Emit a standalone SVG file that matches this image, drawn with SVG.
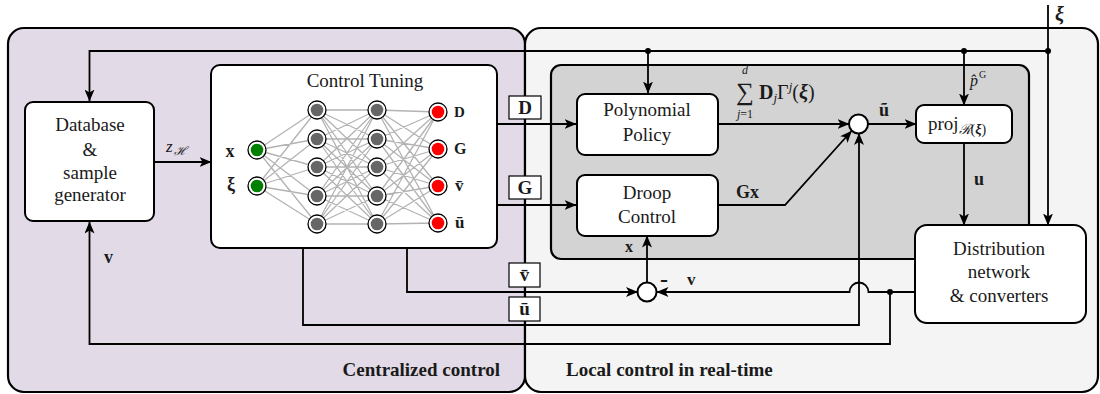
<svg xmlns="http://www.w3.org/2000/svg" width="1100" height="394" viewBox="0 0 1100 394">
  <defs>
    <marker id="arrow" viewBox="0 0 12 10" refX="11.5" refY="5" markerWidth="12" markerHeight="10" markerUnits="userSpaceOnUse" orient="auto">
      <path d="M0,0 L12,5 L0,10 L3,5 Z" fill="#000"/>
    </marker>
    <style>
      .panel { stroke: #000; stroke-width: 2.2; }
      .box { fill: #fff; stroke: #000; stroke-width: 2; }
      .tag { fill: #fff; stroke: #000; stroke-width: 1.2; }
      .wire { fill: none; stroke: #000; stroke-width: 1.8; }
      .arr { marker-end: url(#arrow); }
      .nn { fill: none; stroke: #b3b3b3; stroke-width: 1.3; }
      .ring { fill: #fff; stroke: #000; stroke-width: 1.3; }
      text { font-family: "Liberation Serif", "DejaVu Serif", serif; fill: #1a1a1a; }
      .txt { font-size: 19px; text-anchor: middle; }
      .bf { font-weight: bold; }
      .it { font-style: italic; }
      .title { font-weight: bold; font-size: 19px; }
    </style>
  </defs>

  <!-- background panels -->
  <g id="centralized">
    <rect class="panel" x="8" y="28" width="517" height="364" rx="16" fill="#e2dbe7"/>
    <text class="title" x="500" y="376" text-anchor="end">Centralized control</text>
  </g>
  <g id="local">
    <rect class="panel" x="525" y="28" width="573" height="364" rx="16" fill="#f4f4f4"/>
    <rect class="panel" x="551" y="65" width="478" height="194" rx="10" fill="#d3d3d3" stroke-width="2"/>
    <text class="title" x="566" y="376">Local control in real-time</text>
  </g>

  <!-- connectors -->
  <g id="connectors">
    <path class="wire arr" d="M1048 51 H89.5 V101"/>
    <path class="wire arr" d="M1048 5 V225"/>
    <path class="wire arr" d="M648 51 V93"/>
    <path class="wire arr" d="M964 51 V105"/>
    <path class="wire arr" d="M154 162 H211"/>
    <path class="wire arr" d="M497 124 H576"/>
    <path class="wire arr" d="M497 205 H576"/>
    <path class="wire arr" d="M718 124 H849"/>
    <path class="wire arr" d="M718 205 H785 L851.5 131"/>
    <path class="wire arr" d="M868 124 H916"/>
    <path class="wire arr" d="M964 143 V225"/>
    <path class="wire arr" d="M303 248 V325 H859 V133.5"/>
    <path class="wire arr" d="M407 248 V292 H637.5"/>
    <path class="wire arr" d="M915 292 H868.5 A9.5 9.5 0 0 0 849.5 292 H657"/>
    <path class="wire arr" d="M890 292 V344 H89.5 V222"/>
    <path class="wire arr" d="M647 282.5 V236"/>
    <circle cx="648" cy="51" r="3"/>
    <circle cx="964" cy="51" r="3"/>
    <circle cx="1048" cy="51" r="3"/>
    <circle cx="890" cy="292" r="3"/>
  </g>

  <!-- signal tags on the panel border -->
  <g id="tag-D"><rect class="tag" x="509" y="96" width="32" height="23"/><text class="bf" x="525" y="114" text-anchor="middle" style="font-size:19px">D</text></g>
  <g id="tag-G"><rect class="tag" x="509" y="176" width="32" height="23"/><text class="bf" x="525" y="194" text-anchor="middle" style="font-size:19px">G</text></g>
  <g id="tag-vbar"><rect class="tag" x="509" y="263" width="31" height="24"/><text class="bf" x="524.5" y="281" text-anchor="middle" style="font-size:19px">v̄</text></g>
  <g id="tag-ubar"><rect class="tag" x="509" y="297" width="31" height="24"/><text class="bf" x="524.5" y="315" text-anchor="middle" style="font-size:19px">ū</text></g>

  <!-- database -->
  <g id="database">
    <rect class="box" x="25" y="102" width="129" height="119" rx="8"/>
    <text class="txt" x="90" y="131">Database</text>
    <text class="txt" x="90" y="156">&amp;</text>
    <text class="txt" x="90" y="179">sample</text>
    <text class="txt" x="90" y="201">generator</text>
  </g>

  <!-- control tuning network -->
  <g id="control-tuning">
    <rect class="box" x="211" y="65" width="286" height="183" rx="9"/>
    <text class="txt" x="365" y="87">Control Tuning</text>
    <path class="nn" d="M257 150L317 110M257 150L317 139M257 150L317 167M257 150L317 196M257 150L317 224
      M257 186L317 110M257 186L317 139M257 186L317 167M257 186L317 196M257 186L317 224
      M317 110L377 110M317 110L377 139M317 110L377 167M317 110L377 196M317 110L377 224
      M317 139L377 110M317 139L377 139M317 139L377 167M317 139L377 196M317 139L377 224
      M317 167L377 110M317 167L377 139M317 167L377 167M317 167L377 196M317 167L377 224
      M317 196L377 110M317 196L377 139M317 196L377 167M317 196L377 196M317 196L377 224
      M317 224L377 110M317 224L377 139M317 224L377 167M317 224L377 196M317 224L377 224
      M377 110L438 112M377 110L438 149M377 110L438 186M377 110L438 223
      M377 139L438 112M377 139L438 149M377 139L438 186M377 139L438 223
      M377 167L438 112M377 167L438 149M377 167L438 186M377 167L438 223
      M377 196L438 112M377 196L438 149M377 196L438 186M377 196L438 223
      M377 224L438 112M377 224L438 149M377 224L438 186M377 224L438 223"/>
    <g fill="#008000">
      <circle class="ring" cx="257" cy="150" r="9"/><circle cx="257" cy="150" r="6.3"/>
      <circle class="ring" cx="257" cy="186" r="9"/><circle cx="257" cy="186" r="6.3"/>
    </g>
    <g fill="#666">
      <circle class="ring" cx="317" cy="110" r="9"/><circle cx="317" cy="110" r="6.3"/>
      <circle class="ring" cx="317" cy="139" r="9"/><circle cx="317" cy="139" r="6.3"/>
      <circle class="ring" cx="317" cy="167" r="9"/><circle cx="317" cy="167" r="6.3"/>
      <circle class="ring" cx="317" cy="196" r="9"/><circle cx="317" cy="196" r="6.3"/>
      <circle class="ring" cx="317" cy="224" r="9"/><circle cx="317" cy="224" r="6.3"/>
      <circle class="ring" cx="377" cy="110" r="9"/><circle cx="377" cy="110" r="6.3"/>
      <circle class="ring" cx="377" cy="139" r="9"/><circle cx="377" cy="139" r="6.3"/>
      <circle class="ring" cx="377" cy="167" r="9"/><circle cx="377" cy="167" r="6.3"/>
      <circle class="ring" cx="377" cy="196" r="9"/><circle cx="377" cy="196" r="6.3"/>
      <circle class="ring" cx="377" cy="224" r="9"/><circle cx="377" cy="224" r="6.3"/>
    </g>
    <g fill="#ff0000">
      <circle class="ring" cx="438" cy="112" r="9"/><circle cx="438" cy="112" r="6.3"/>
      <circle class="ring" cx="438" cy="149" r="9"/><circle cx="438" cy="149" r="6.3"/>
      <circle class="ring" cx="438" cy="186" r="9"/><circle cx="438" cy="186" r="6.3"/>
      <circle class="ring" cx="438" cy="223" r="9"/><circle cx="438" cy="223" r="6.3"/>
    </g>
    <text class="bf" x="230" y="157" text-anchor="middle" style="font-size:18px">x</text>
    <text class="bf" x="231" y="190" text-anchor="middle" style="font-size:18px">ξ</text>
    <text class="bf" x="454" y="117" style="font-size:15px">D</text>
    <text class="bf" x="454" y="154" style="font-size:16px">G</text>
    <text class="bf" x="455" y="191" style="font-size:17px">v̄</text>
    <text class="bf" x="455" y="228" style="font-size:17px">ū</text>
  </g>

  <!-- local controllers -->
  <g id="polynomial-policy">
    <rect class="box" x="577" y="94" width="141" height="61" rx="8"/>
    <text class="txt" x="647" y="116">Polynomial</text>
    <text class="txt" x="647" y="141">Policy</text>
  </g>
  <g id="droop-control">
    <rect class="box" x="577" y="175" width="141" height="61" rx="8"/>
    <text class="txt" x="647" y="199">Droop</text>
    <text class="txt" x="647" y="223">Control</text>
  </g>
  <g id="sum-node">
    <circle cx="858.5" cy="124" r="9.5" fill="#fff" stroke="#000" stroke-width="2"/>
  </g>
  <g id="difference-node">
    <circle cx="647" cy="292" r="9.5" fill="#fff" stroke="#000" stroke-width="2"/>
  </g>
  <g id="projection">
    <rect class="box" x="916" y="105" width="96" height="38" rx="8"/>
    <text x="928" y="130" style="font-size:19px">proj<tspan class="it" dy="4" style="font-size:14px">ℛ</tspan><tspan style="font-size:14px">(</tspan><tspan class="bf it" style="font-size:14px">ξ</tspan><tspan style="font-size:14px">)</tspan></text>
  </g>
  <g id="distribution-network">
    <rect class="box" x="915" y="225" width="171" height="98" rx="12"/>
    <text class="txt" x="999" y="255">Distribution</text>
    <text class="txt" x="999" y="278">network</text>
    <text class="txt" x="999" y="302">&amp; converters</text>
  </g>

  <!-- signal labels -->
  <g id="labels">
    <text class="it" x="166" y="152" style="font-size:17px">z</text>
    <text class="it" x="174" y="155" style="font-size:12px">ℋ</text>
    <text class="bf" x="104" y="263" style="font-size:18px">v</text>
    <text class="bf" x="625" y="252" style="font-size:16px">x</text>
    <text class="bf" x="660" y="287" style="font-size:24px">-</text>
    <text class="bf" x="687" y="285" style="font-size:17px">v</text>
    <text class="bf" x="736" y="198" style="font-size:18px">Gx</text>
    <text class="bf" x="879" y="116" style="font-size:18px">ũ</text>
    <text class="bf" x="974" y="185" style="font-size:18px">u</text>
    <text class="it" x="970" y="86" style="font-size:16px">p̂</text>
    <text x="979" y="78" style="font-size:10px">G</text>
    <text class="bf it" x="1055" y="21" style="font-size:20px">ξ</text>
    <!-- sum over j = 1..d of D_j Γ^j(ξ) -->
    <text x="745" y="100" text-anchor="middle" style="font-size:25px">∑</text>
    <text class="it" x="745" y="74" text-anchor="middle" style="font-size:12px">d</text>
    <text class="it" x="745" y="118" text-anchor="middle" style="font-size:12px">j<tspan style="font-style:normal">=1</tspan></text>
    <text x="759" y="99" style="font-size:20px"><tspan class="bf">D</tspan><tspan class="it" dy="3" style="font-size:13px">j</tspan><tspan dy="-3">Γ</tspan><tspan class="it" dy="-8" style="font-size:13px">j</tspan><tspan dy="8">(</tspan><tspan class="bf it">ξ</tspan><tspan>)</tspan></text>
  </g>
</svg>
